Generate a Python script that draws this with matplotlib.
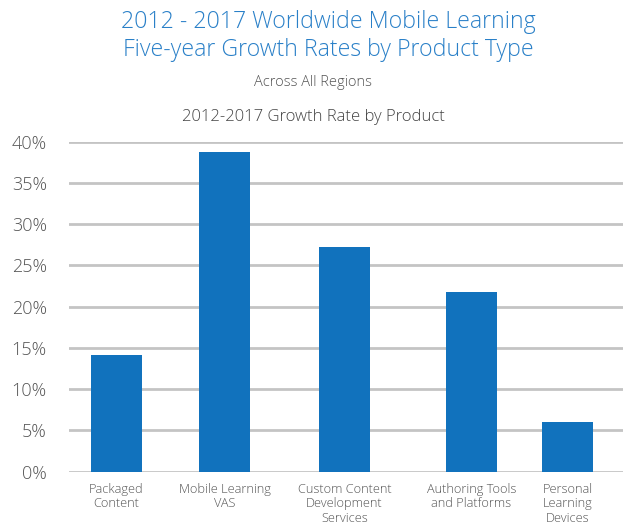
import matplotlib
matplotlib.use("Agg")
import matplotlib.pyplot as plt

plt.rcParams['font.family'] = ['Open Sans', 'DejaVu Sans']

categories = ["Packaged\nContent", "Mobile Learning\nVAS", "Custom Content\nDevelopment\nServices",
              "Authoring Tools\nand Platforms", "Personal\nLearning\nDevices"]
growth_pct = [14.2, 38.8, 27.2, 21.8, 6.0]
y_ticks = [0, 5, 10, 15, 20, 25, 30, 35, 40]
y_tick_labels = [f"{t}%" for t in y_ticks]

# horizontal layout of the bar slots (axis units)
slot_centers = [0.475, 1.555, 2.755, 4.025, 4.985]
bar_width = 0.51

BLUE = "#1172bd"
GRID = "#c4c4c4"
TEXT = "#555555"

fig = plt.figure(figsize=(6.29, 5.23), dpi=100)
ax = fig.add_axes([69 / 629, 0.098, 554 / 629, 0.631])

ax.bar(slot_centers, growth_pct, width=bar_width, color=BLUE, zorder=3)

ax.set_xlim(0, 5.54)
ax.set_ylim(0, 40)
ax.set_yticks(y_ticks)
ax.set_yticklabels(y_tick_labels, fontsize=13, color=TEXT, fontweight='light')
ax.set_xticks(slot_centers)
ax.set_xticklabels(categories, fontsize=9.2, color=TEXT, fontweight='light', linespacing=1.15)
ax.tick_params(axis='both', length=0)
ax.tick_params(axis='y', pad=16)
ax.tick_params(axis='x', pad=8)
ax.yaxis.grid(True, color=GRID, linewidth=2, zorder=0)
for s in ax.spines.values():
    s.set_visible(False)

fig.text(0.522, 0.9585, "2012 - 2017 Worldwide Mobile Learning", ha='center', va='center',
         fontsize=16.7, color="#2a80c8", fontweight='light')
fig.text(0.522, 0.904, "Five-year Growth Rates by Product Type", ha='center', va='center',
         fontsize=16.7, color="#2a80c8", fontweight='light')
fig.text(0.497, 0.843, "Across All Regions", ha='center', va='center',
         fontsize=10.5, color=TEXT, fontweight='light')
fig.text(0.499, 0.777, "2012-2017 Growth Rate by Product", ha='center', va='center',
         fontsize=12, color="#444444", fontweight='light')

fig.savefig("out.png", dpi=100)
